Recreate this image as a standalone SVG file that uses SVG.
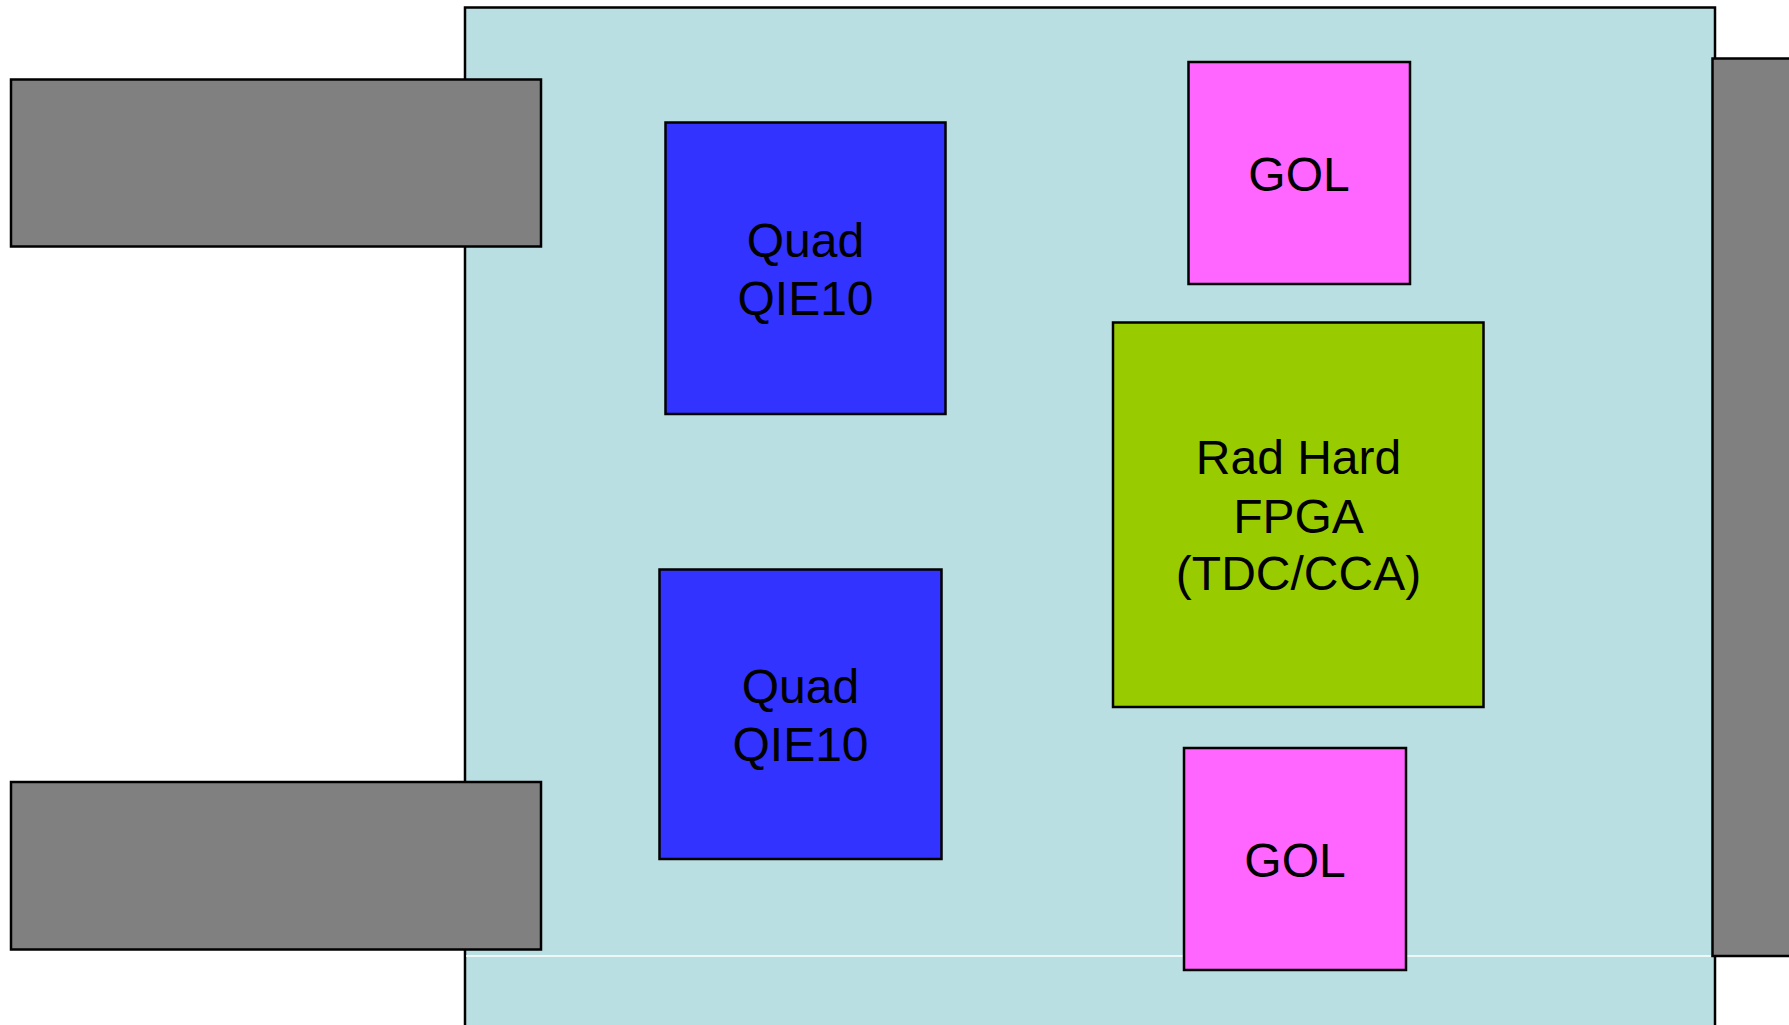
<svg xmlns="http://www.w3.org/2000/svg" width="1789" height="1025" viewBox="0 0 1789 1025">
<style>
.s{stroke:#000;stroke-width:2.5}
.t{font-family:"Liberation Sans",Arial,sans-serif;font-size:48px;fill:#000;text-anchor:middle}
</style>
<rect width="1789" height="1025" fill="#fff"/>
<g id="board"><rect class="s" x="465" y="7.5" width="1250" height="1030" fill="#BADFE2"/></g>
<g id="conn-left-top"><rect class="s" x="11" y="79.5" width="530" height="167" fill="#808080"/></g>
<g id="conn-left-bottom"><rect class="s" x="11" y="782" width="530" height="167.5" fill="#808080"/></g>
<g id="conn-right"><rect class="s" x="1712.5" y="58.5" width="90" height="897.5" fill="#808080"/></g>
<g id="connectors"><line x1="466" y1="956" x2="1711" y2="956" stroke="#fff" stroke-width="1.5"/></g>
<g id="qie-top"><rect class="s" x="665.5" y="122.5" width="280" height="291.5" fill="#3333FF"/>
<text class="t" x="805.5" y="256.5">Quad</text><text class="t" x="805.5" y="315">QIE10</text></g>
<g id="qie-bottom"><rect class="s" x="659.5" y="569.5" width="282" height="289.5" fill="#3333FF"/>
<text class="t" x="800.5" y="703">Quad</text><text class="t" x="800.5" y="761">QIE10</text></g>
<g id="gol-top"><rect class="s" x="1188.5" y="62" width="221.5" height="222" fill="#FF66FF"/>
<text class="t" x="1299" y="190.5">GOL</text></g>
<g id="fpga"><rect class="s" x="1113" y="322.5" width="370.5" height="384.5" fill="#99CC00"/>
<text class="t" x="1298.5" y="474">Rad Hard</text><text class="t" x="1298.5" y="532.5">FPGA</text><text class="t" x="1298.5" y="590">(TDC/CCA)</text></g>
<g id="gol-bottom"><rect class="s" x="1184" y="748" width="222" height="222" fill="#FF66FF"/>
<text class="t" x="1295" y="876.5">GOL</text></g>
</svg>
